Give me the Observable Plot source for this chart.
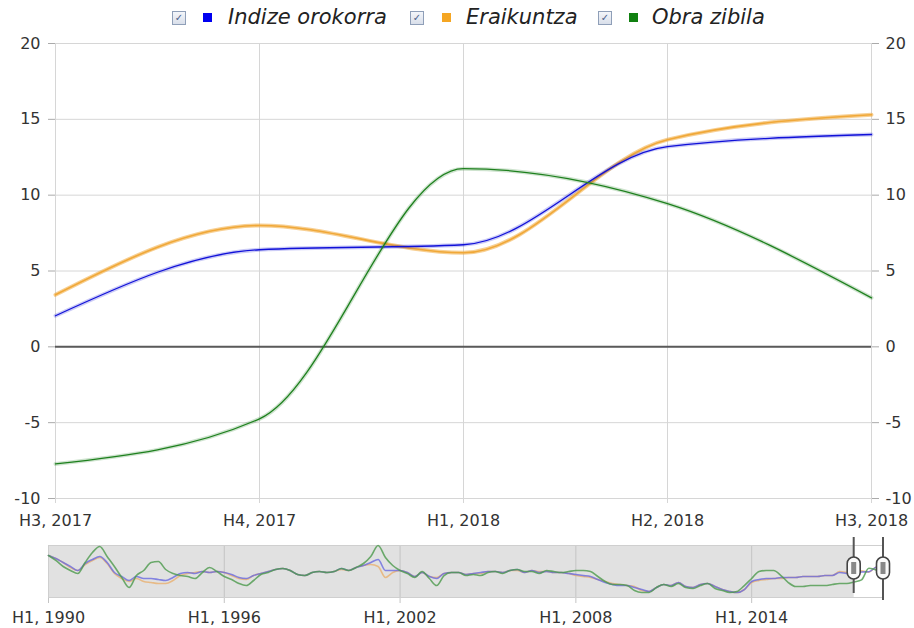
<!DOCTYPE html>
<html>
<head>
<meta charset="utf-8">
<script src="https://cdn.jsdelivr.net/npm/d3@7"></script>
<script src="https://cdn.jsdelivr.net/npm/@observablehq/plot@0.6"></script>
<style>
  html, body { margin: 0; padding: 0; background: #fff; }
  body { width: 914px; height: 628px; overflow: hidden; font-family: "DejaVu Sans", Verdana, sans-serif; color: #333; }
  #legend { position: relative; height: 16px; width: 914px; z-index: 2; }
  .cb { position: absolute; top: 11px; width: 12px; height: 12px; border: 1px solid #8f9fb8;
        background: linear-gradient(#f4f6fa, #d9dfea); font-size: 10px; line-height: 12px; text-align: center; color: #4a5f8a; }
  .sw { position: absolute; top: 13px; width: 9px; height: 9px; }
  .lt { position: absolute; top: 5px; font-size: 21px; font-style: italic; color: #222; white-space: nowrap; }
  #main, #nav { display: block; position: relative; z-index: 1; }
</style>
</head>
<body>
<div id="legend"></div>
<div id="main"></div>
<div id="nav"></div>
<script>
// ---- main chart data ----
const quarters = ["H3, 2017", "H4, 2017", "H1, 2018", "H2, 2018", "H3, 2018"];
const seriesNames = ["Indize orokorra", "Eraikuntza", "Obra zibila"];
const seriesColors = ["#1010d8", "#f0a838", "#1e801e"];
const indize = [2.05, 6.4, 6.73, 13.2, 14.0];
const eraikuntza = [3.43, 8.0, 6.2, 13.66, 15.3];
const obraZibila = [-7.72, -4.75, 11.75, 9.44, 3.23];
const yTicks = [-10, -5, 0, 5, 10, 15, 20];

// ---- navigator data (quarterly, H1 1990 ... H2 2017; main values follow) ----
const navStartYear = 1990;
const navTickIndex = [0, 24, 48, 72, 96];
const navTickLabels = ["H1, 1990", "H1, 1996", "H1, 2002", "H1, 2008", "H1, 2014"];
const navIndizeHist = [30.0,25.7,20.0,14.3,8.6,18.6,24.3,28.6,20.0,5.7,
  0.0,-5.7,0.0,-2.9,-2.9,-4.3,-5.7,-1.4,4.3,5.7,
  4.3,7.1,5.7,7.1,5.7,2.9,-1.4,-2.9,1.4,4.3,
  7.1,10.0,11.4,8.6,2.9,1.4,5.7,7.1,5.7,7.1,
  11.4,8.6,12.9,15.7,20.0,24.3,8.6,8.6,8.6,5.7,
  0.0,5.7,0.0,-2.9,4.3,5.7,5.7,2.9,4.3,5.7,
  7.1,7.1,5.7,8.6,10.0,5.7,8.6,5.7,7.1,5.7,
  5.7,4.3,2.9,1.4,0.0,-4.3,-8.6,-11.4,-12.9,-12.9,
  -15.7,-18.6,-21.4,-15.7,-11.4,-12.9,-8.6,-14.3,-15.7,-11.4,
  -10.0,-14.3,-18.6,-21.4,-22.9,-18.6,-7.1,-4.3,-2.9,-2.9,
  -1.4,-1.4,-1.4,0.0,0.0,0.0,1.4,1.4,5.7,4.3];
const navEraikuntzaHist = [30.0,25.7,20.0,12.9,8.6,17.1,22.9,27.1,18.6,4.3,
  -2.9,-7.1,-2.9,-7.1,-8.6,-10.0,-10.0,-5.7,1.4,4.3,
  5.7,7.1,5.7,7.1,5.7,1.4,-2.9,-4.3,1.4,4.3,
  7.1,10.0,11.4,8.6,2.9,1.4,5.7,7.1,5.7,7.1,
  10.0,8.6,12.9,15.7,17.1,14.3,-1.4,5.7,8.6,5.7,
  0.0,5.7,0.0,-1.4,4.3,5.7,5.7,2.9,4.3,4.3,
  7.1,7.1,5.7,8.6,8.6,5.7,8.6,7.1,7.1,5.7,
  5.7,4.3,1.4,0.0,-1.4,-4.3,-7.1,-10.0,-11.4,-12.9,
  -14.3,-20.0,-21.4,-15.7,-11.4,-12.9,-8.6,-14.3,-15.7,-11.4,
  -10.0,-14.3,-18.6,-21.4,-22.9,-18.6,-8.6,-5.7,-4.3,-2.9,
  -2.9,-1.4,-1.4,0.0,0.0,0.0,1.4,1.4,7.1,5.7];
const navObraHist = [30.0,22.9,14.3,8.6,4.3,20.0,34.3,42.9,28.6,14.3,
  -1.4,-15.7,1.4,8.6,20.0,21.4,10.0,4.3,1.4,0.0,
  -2.9,5.7,12.9,7.1,0.0,-4.3,-10.0,-12.9,-5.7,2.9,
  5.7,10.0,11.4,8.6,2.9,1.4,5.7,7.1,5.7,7.1,
  11.4,8.6,12.9,18.6,28.6,44.3,27.1,15.7,8.6,4.3,
  -1.4,7.1,-2.9,-12.9,1.4,5.7,5.7,1.4,2.9,1.4,
  5.7,7.1,4.3,8.6,10.0,7.1,7.1,4.3,8.6,7.1,
  5.7,7.1,8.6,8.6,7.1,0.0,-7.1,-11.4,-11.4,-12.9,
  -20.0,-22.9,-22.9,-15.7,-11.4,-14.3,-10.0,-15.7,-17.1,-12.9,
  -10.0,-17.1,-20.0,-22.9,-21.4,-12.9,-2.9,7.1,8.6,8.6,
  1.4,-8.6,-14.3,-14.3,-12.9,-12.9,-12.9,-11.4,-10.0,-10.0];

const mainSeries = [indize, eraikuntza, obraZibila];
const navHist = [navIndizeHist, navEraikuntzaHist, navObraHist];

// ---- legend ----
const legend = document.getElementById("legend");
const legendX = [[172, 203, 228], [410, 442, 466], [598, 629, 652]];
seriesNames.forEach((name, i) => {
  const [cx, sx, tx] = legendX[i];
  const cb = document.createElement("span"); cb.className = "cb"; cb.style.left = cx + "px"; cb.textContent = "✓";
  const sw = document.createElement("span"); sw.className = "sw"; sw.style.left = sx + "px"; sw.style.background = ["#0000f0", "#f5a623", "#108010"][i];
  const lt = document.createElement("span"); lt.className = "lt"; lt.style.left = tx + "px"; lt.textContent = name;
  legend.append(cb, sw, lt);
});

// ---- main chart ----
const rows = [];
mainSeries.forEach((vals, s) => vals.forEach((v, i) => rows.push({q: quarters[i], v, s: seriesNames[s]})));
const drawOrder = [1, 0, 2];

const lineMarks = [];
drawOrder.forEach(s => {
  const data = rows.filter(r => r.s === seriesNames[s]);
  lineMarks.push(Plot.line(data, {x: "q", y: "v", curve: "monotone-x", stroke: seriesColors[s], strokeWidth: 4, strokeOpacity: s === 1 ? 0.55 : 0.22}));
  lineMarks.push(Plot.line(data, {x: "q", y: "v", curve: "monotone-x", stroke: seriesColors[s], strokeWidth: s === 1 ? 1.6 : 1.3}));
});

const main = Plot.plot({
  width: 914, height: 520,
  marginLeft: 55, marginRight: 43, marginTop: 27, marginBottom: 38,
  style: {fontFamily: "DejaVu Sans, Verdana, sans-serif", fontSize: "16px", color: "#333", background: "transparent"},
  x: {type: "point", domain: quarters, padding: 0, axis: null},
  y: {domain: [-10, 20], axis: null},
  marks: [
    Plot.ruleY(yTicks, {stroke: "#d6d6d6", strokeWidth: 1}),
    Plot.ruleX(quarters, {stroke: "#d6d6d6", strokeWidth: 1, insetBottom: -5}),
    Plot.ruleY([0], {stroke: "#5a5a5a", strokeWidth: 2}),
    Plot.axisY({anchor: "left", label: null, ticks: yTicks, tickSize: 7, tickPadding: 8, stroke: "#aaa", tickFormat: d => String(d)}),
    Plot.axisY({anchor: "right", label: null, ticks: yTicks, tickSize: 7, tickPadding: 7, stroke: "#aaa", tickFormat: d => String(d)}),
    Plot.axisX({label: null, ticks: quarters, tickSize: 0, tickPadding: 16}),
    ...lineMarks
  ]
});
document.getElementById("main").append(main);

// ---- navigator ----
const navRows = [];
const navLen = navHist[0].length + quarters.length;
navHist.forEach((hist, s) => {
  const all = hist.concat(mainSeries[s]);
  all.forEach((v, i) => navRows.push({i, v, s: seriesNames[s]}));
});
const selStart = navHist[0].length;
const selEnd = navLen - 1;
const navColors = ["#6a6ae0", "#e8b070", "#4c9a4c"];

function handles(index, scales, values, dimensions) {
  const g = document.createElementNS("http://www.w3.org/2000/svg", "g");
  const cy = dimensions.marginTop + 23;
  [selStart, selEnd].forEach((d, k) => {
    const x = scales.x(d);
    const line = document.createElementNS("http://www.w3.org/2000/svg", "line");
    line.setAttribute("x1", x); line.setAttribute("x2", x);
    line.setAttribute("y1", dimensions.marginTop - 8);
    line.setAttribute("y2", dimensions.height - dimensions.marginBottom + (k ? 3 : -4));
    line.setAttribute("stroke", "#555"); line.setAttribute("stroke-width", "2");
    const oval = document.createElementNS("http://www.w3.org/2000/svg", "rect");
    oval.setAttribute("x", x - 6.5); oval.setAttribute("y", cy - 11);
    oval.setAttribute("width", 13); oval.setAttribute("height", 22);
    oval.setAttribute("rx", 6.5); oval.setAttribute("ry", 6.5);
    oval.setAttribute("fill", "#fafafa"); oval.setAttribute("stroke", "#444"); oval.setAttribute("stroke-width", "1.6");
    const inner = document.createElementNS("http://www.w3.org/2000/svg", "rect");
    inner.setAttribute("x", x - 2.5); inner.setAttribute("y", cy - 6);
    inner.setAttribute("width", 5); inner.setAttribute("height", 12);
    inner.setAttribute("fill", "#888");
    g.append(line, oval, inner);
  });
  return g;
}

const navMarks = [
  Plot.frame({fill: "#e1e1e1"}),
  Plot.rect([{a: selStart, b: selEnd}], {x1: "a", x2: "b", fill: "white"}),
  Plot.ruleX(navTickIndex, {stroke: "#c4c4c4", insetBottom: -6}),
  Plot.frame({stroke: "#cfcfcf"}),
  Plot.axisX({label: null, ticks: navTickIndex, tickSize: 0, tickPadding: 14, tickFormat: d => navTickLabels[navTickIndex.indexOf(d)]})
];
[1, 0, 2].forEach(s => {
  navMarks.push(Plot.line(navRows.filter(r => r.s === seriesNames[s]), {x: "i", y: "v", curve: "monotone-x", stroke: navColors[s], strokeWidth: 1.6, strokeOpacity: 0.8}));
});
navMarks.push(handles);

const nav = Plot.plot({
  width: 914, height: 92,
  marginLeft: 48, marginRight: 31, marginTop: 9, marginBottom: 31,
  style: {fontFamily: "DejaVu Sans, Verdana, sans-serif", fontSize: "16px", color: "#333", background: "white"},
  x: {domain: [0, selEnd], axis: null},
  y: {domain: [-30, 44.3], axis: null},
  marks: navMarks
});
document.getElementById("nav").append(nav);
</script>
</body>
</html>
